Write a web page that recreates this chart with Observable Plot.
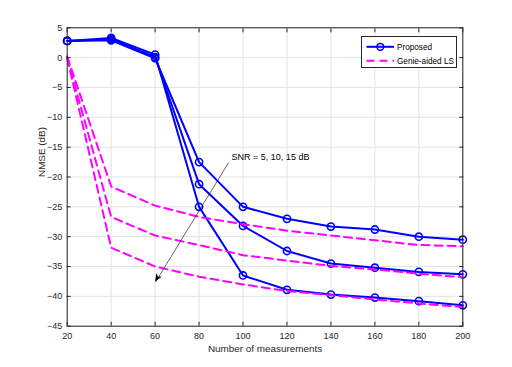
<!DOCTYPE html>
<html><head><meta charset="utf-8">
<script src="https://cdn.jsdelivr.net/npm/d3@7"></script>
<script src="https://cdn.jsdelivr.net/npm/@observablehq/plot@0.6"></script>
<style>
body{margin:0;background:#fff;}
#wrap{position:relative;width:512px;height:367px;font-family:"Liberation Sans",Arial,sans-serif;}
#legend{position:absolute;left:360.5px;top:35.5px;width:96px;height:32px;border:0.8px solid #262626;background:#fff;box-sizing:border-box;}
#legend svg{position:absolute;left:0;top:0;}
</style>
</head><body><div id="wrap"></div>
<script>
// ---- data ----
const measurements = [20, 40, 60, 80, 100, 120, 140, 160, 180, 200];
const proposedSNR5  = [2.8, 2.9, -0.1, -17.5, -25.0, -27.0, -28.3, -28.8, -30.0, -30.5];
const proposedSNR10 = [2.8, 3.1,  0.1, -21.2, -28.2, -32.4, -34.5, -35.2, -35.9, -36.3];
const proposedSNR15 = [2.8, 3.3,  0.5, -25.0, -36.5, -38.9, -39.7, -40.2, -40.8, -41.5];
const genieSNR5  = [0.2, -21.6, -24.8, -26.7, -27.9, -29.0, -29.8, -30.6, -31.4, -31.6];
const genieSNR10 = [0.0, -26.7, -29.8, -31.4, -33.1, -34.0, -34.9, -35.5, -36.2, -36.8];
const genieSNR15 = [-0.1, -31.85, -35.0, -36.7, -38.0, -39.1, -39.8, -40.5, -41.2, -41.8];
const xTicks = [20, 40, 60, 80, 100, 120, 140, 160, 180, 200];
const yTicks = [5, 0, -5, -10, -15, -20, -25, -30, -35, -40, -45];
const seriesNames = ["Proposed", "Genie-aided LS"];
const xLabel = "Number of measurements";
const yLabel = "NMSE (dB)";
const annotText = ["SNR = 5, 10, 15 dB"];
const annotTextPos = [{x: 94.8, y: -16.7}];
const annotArrow = [{x1: 93.4, y1: -17.6, x2: 60.2, y2: -37.6}];

// ---- build tidy tables ----
const proposed = [];
[proposedSNR5, proposedSNR10, proposedSNR15].forEach((arr, k) =>
  arr.forEach((v, i) => proposed.push({snr: k, x: measurements[i], y: v})));
const genie = [];
[genieSNR5, genieSNR10, genieSNR15].forEach((arr, k) =>
  arr.forEach((v, i) => genie.push({snr: k, x: measurements[i], y: v})));

const BLUE = "#0000ff", MAG = "#ff00ff", AX = "#262626";

// filled arrowhead drawn through Plot's scales
function arrowHead(index, scales) {
  const g = document.createElementNS("http://www.w3.org/2000/svg", "g");
  for (const d of annotArrow) {
    const x1 = scales.x(d.x1), y1 = scales.y(d.y1), x2 = scales.x(d.x2), y2 = scales.y(d.y2);
    const a = Math.atan2(y2 - y1, x2 - x1);
    const L = 8, W = 3.2, back = 5.5;
    const ux = Math.cos(a), uy = Math.sin(a), px = -uy, py = ux;
    const bx = x2 - L * ux, by = y2 - L * uy;
    const nx = x2 - back * ux, ny = y2 - back * uy;
    const p = document.createElementNS("http://www.w3.org/2000/svg", "path");
    p.setAttribute("d", `M${x2},${y2}L${bx + W * px},${by + W * py}L${nx},${ny}L${bx - W * px},${by - W * py}Z`);
    p.setAttribute("fill", "#000");
    g.appendChild(p);
  }
  return g;
}

const chart = Plot.plot({
  width: 512, height: 367,
  marginLeft: 66.7, marginRight: 49.7, marginTop: 27.3, marginBottom: 41.3,
  style: {fontFamily: '"Liberation Sans", Arial, sans-serif', fontSize: "9px", color: AX, background: "#fff"},
  x: {domain: [20, 200]},
  y: {domain: [-45, 5]},
  marks: [
    Plot.gridX(xTicks, {stroke: "#e3e3e3", strokeOpacity: 1}),
    Plot.gridY(yTicks, {stroke: "#e3e3e3", strokeOpacity: 1}),
    Plot.line(proposed, {x: "x", y: "y", z: "snr", stroke: BLUE, strokeWidth: 2}),
    Plot.dot(proposed, {x: "x", y: "y", r: 3.6, stroke: BLUE, strokeWidth: 1.6, fill: "none"}),
    Plot.line(genie, {x: "x", y: "y", z: "snr", stroke: MAG, strokeWidth: 2, strokeDasharray: "8,5"}),
    Plot.link(annotArrow, {x1: "x1", y1: "y1", x2: "x2", y2: "y2", stroke: "#000", strokeWidth: 0.6}),
    arrowHead,
    Plot.text(annotText, {x: annotTextPos.map(d => d.x), y: annotTextPos.map(d => d.y), text: d => d, textAnchor: "start", fontSize: 9, fill: "#000"}),
    Plot.frame({stroke: AX, strokeWidth: 1}),
    Plot.axisX(xTicks, {anchor: "bottom", tickSize: 0, tickPadding: 6, label: null, fontSize: 9}),
    Plot.axisX(xTicks, {anchor: "bottom", tickSize: -4, tickFormat: () => "", label: null}),
    Plot.axisX(xTicks, {anchor: "top", tickSize: -4, tickFormat: () => "", label: null}),
    Plot.axisY(yTicks, {anchor: "left", tickSize: 0, tickPadding: 5, label: null, fontSize: 9}),
    Plot.axisY(yTicks, {anchor: "left", tickSize: -4, tickFormat: () => "", label: null}),
    Plot.axisY(yTicks, {anchor: "right", tickSize: -4, tickFormat: () => "", label: null}),
    Plot.text([xLabel], {frameAnchor: "bottom", text: d => d, dy: 23, fontSize: 9.9, lineAnchor: "middle", fill: AX}),
    Plot.text([yLabel], {frameAnchor: "left", text: d => d, dx: -25, rotate: -90, fontSize: 9.9, lineAnchor: "middle", fill: AX})
  ]
});
const wrap = document.getElementById("wrap");
wrap.appendChild(chart);

// legend
const leg = document.createElement("div");
leg.id = "legend";
leg.innerHTML = `<svg width="96" height="32" font-family='"Liberation Sans", Arial, sans-serif' font-size="8.2">
  <line x1="4.5" x2="32" y1="9.8" y2="9.8" stroke="${BLUE}" stroke-width="2"/>
  <circle cx="18.3" cy="9.8" r="3.4" stroke="${BLUE}" stroke-width="1.5" fill="none"/>
  <text x="35" y="9.8" dy="0.35em" fill="#000">${seriesNames[0]}</text>
  <line x1="4.5" x2="32" y1="23.8" y2="23.8" stroke="${MAG}" stroke-width="2" stroke-dasharray="8,5"/>
  <text x="35" y="23.8" dy="0.35em" fill="#000">${seriesNames[1]}</text>
</svg>`;
wrap.appendChild(leg);
</script>
</body></html>
